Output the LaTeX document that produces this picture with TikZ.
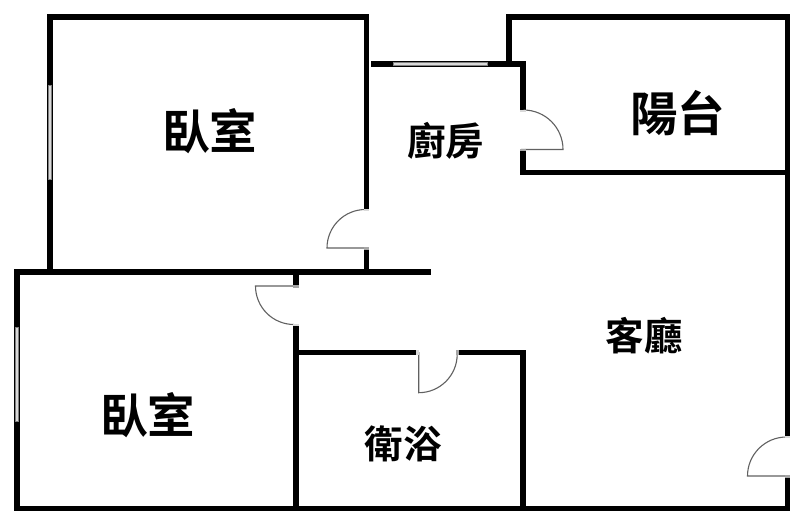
\documentclass[tikz,border=0pt]{standalone}
\usepackage{fontspec}
\newfontfamily\cjk{Noto Sans CJK TC Bold}
\tikzset{
  wall/.style={line width=5.2pt,line cap=butt,line join=miter,black},
  doorleaf/.style={line width=1.1pt,draw=black!62},
  winglass/.style={line width=1pt,draw=black!50,fill=black!15},
  bigroom/.style={font=\cjk\fontsize{47.5}{47.5}\selectfont,inner sep=0pt},
  smallroom/.style={font=\cjk\fontsize{38.5}{38.5}\selectfont,inner sep=0pt},
}
\begin{document}
\begin{tikzpicture}[x=1pt,y=-1pt]
\useasboundingbox (0,0) rectangle (800,521);
\fill[white] (0,0) rectangle (800,521);
% walls
\draw[wall] (50,272) -- (50,17) -- (366.7,17) -- (366.7,210);
\draw[wall] (366.7,248) -- (366.7,272);
\draw[wall] (14.3,272) -- (431,272);
\draw[wall] (371,64) -- (523,64) -- (523,111);
\draw[wall] (509,64) -- (509,17) -- (787.7,17) -- (787.7,437);
\draw[wall] (523,149) -- (523,172.7) -- (785,172.7);
\draw[wall] (787.7,476) -- (787.7,508.5);
\draw[wall] (17,272) -- (17,508.5);
\draw[wall] (14.3,508.5) -- (790.3,508.5);
\draw[wall] (296,272) -- (296,286);
\draw[wall] (296,324) -- (296,508.5);
\draw[wall] (296,352.7) -- (418,352.7);
\draw[wall] (457,352.7) -- (523,352.7) -- (523,508.5);
% windows
\draw[winglass] (48.2,86) rectangle (51.8,180);
\draw[winglass] (15.2,327) rectangle (18.8,421);
\draw[winglass] (393,62.2) rectangle (487,65.8);
% doors
\draw[doorleaf] (366,248) -- (327,248) arc[start angle=180,end angle=270,radius=38.5];
\draw[doorleaf] (521,149.5) -- (563,149.5) arc[start angle=0,end angle=-90,radius=39.5];
\draw[doorleaf] (296,286) -- (255.5,286) arc[start angle=180,end angle=90,radius=38.5];
\draw[doorleaf] (418.7,352) -- (418.7,392.7) arc[start angle=90,end angle=0,radius=38.5];
\draw[doorleaf] (788,476) -- (747.5,476) arc[start angle=180,end angle=270,radius=39];
% jamb ends
\fill[black!35] (364.1,247) rectangle (369.3,250);
\fill[black!15] (364.1,209) rectangle (369.3,211);
\fill[black!35] (520.4,149) rectangle (525.6,151.5);
\fill[black!15] (520.4,110) rectangle (525.6,112);
\fill[black!35] (293.4,285) rectangle (298.6,287.5);
\fill[black!15] (293.4,323.5) rectangle (298.6,325.5);
\fill[black!15] (416,350.1) rectangle (418.5,355.3);
\fill[black!35] (456,350.1) rectangle (458.5,355.3);
\fill[black!15] (785.1,436) rectangle (790.3,438);
\fill[black!35] (785.1,475) rectangle (790.3,477.5);
% labels
\node[bigroom] (bedroomA) at (209.5,131) {臥室};
\node[bigroom] (bedroomB) at (147.5,415) {臥室};
\node[bigroom] (balcony) at (677.5,113.5) {陽台};
\node[smallroom] (kitchen) at (445.5,141.3) {廚房};
\node[smallroom] (living) at (644,335.7) {客廳};
\node[smallroom] (bath) at (403,443.7) {衛浴};
\end{tikzpicture}
\end{document}
